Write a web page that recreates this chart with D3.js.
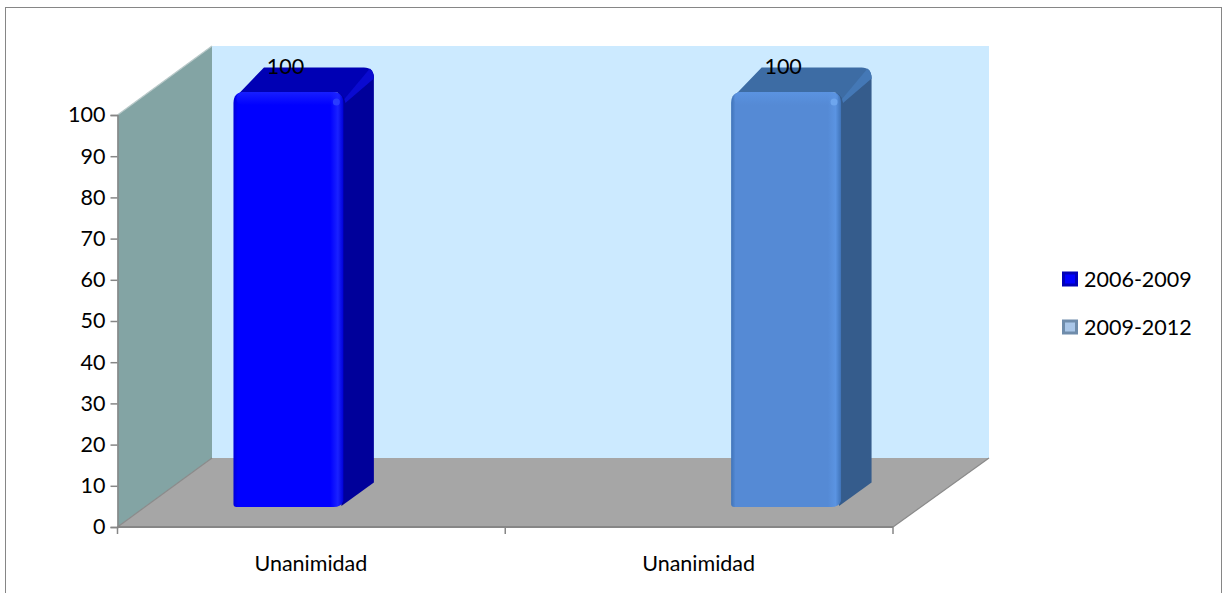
<!DOCTYPE html>
<meta charset="utf-8">
<script src="https://d3js.org/d3.v7.min.js"></script>
<style>
html, body { margin: 0; padding: 0; background: #fff; }
svg { display: block; }
text { font-family: Lato, "Open Sans", sans-serif; fill: #000; }
</style>
<body>
<script>
// Chart values
var categories = ["Unanimidad", "Unanimidad"];
var seriesNames = ["2006-2009", "2009-2012"];
var values2006 = [100, null];
var values2009 = [null, 100];
var yTicks = [0, 10, 20, 30, 40, 50, 60, 70, 80, 90, 100];

var width = 1224, height = 593;

var svg = d3.select("body").append("svg")
    .attr("width", width)
    .attr("height", height);

var defs = svg.append("defs");

// Palette of each series: front, front edge highlight, top, side
var palette = [
    {front: "#0000ff", edge: "#0000d8", light: "#1a22ff", top: "#0000b4", topLight: "#0a0ad0", side: "#00009a"},
    {front: "#558ad5", edge: "#3f73b8", light: "#5b94e2", top: "#3d6ca4", topLight: "#4478b6", side: "#355c8c"}
];

palette.forEach(function(p, i) {
    var g = defs.append("linearGradient").attr("id", "front" + i);
    [[0, p.edge], [0.04, p.front], [0.88, p.front], [0.95, p.light], [1, p.edge]].forEach(function(s) {
        g.append("stop").attr("offset", s[0]).attr("stop-color", s[1]);
    });
    var v = defs.append("linearGradient").attr("id", "frontTop" + i)
        .attr("x1", 0).attr("x2", 0).attr("y1", 0).attr("y2", 1);
    v.append("stop").attr("offset", 0).attr("stop-color", p.light).attr("stop-opacity", 0.9);
    v.append("stop").attr("offset", 1).attr("stop-color", p.light).attr("stop-opacity", 0);
});

// Chart area frame
svg.append("rect")
    .attr("x", 5.5).attr("y", 7.5)
    .attr("width", 1216).attr("height", 600)
    .attr("fill", "#fff")
    .attr("stroke", "#868686");

// Scales
var x0 = d3.scaleBand().domain(d3.range(categories.length)).range([117.5, 893]);
var x1 = d3.scaleBand().domain(d3.range(seriesNames.length))
    .range([0, x0.bandwidth()]).paddingOuter(0.764);
var y = d3.scaleLinear().domain([0, 100]).range([527, 115]);
var barY = d3.scaleLinear().domain([0, 100]).range([507, 92]);

// Depth of the 3D box and position of the bars inside it
var depthX = 94.5, depthY = 69;
var barShiftX = 32, sideX = 30.5, sideY = 24.5;

function pts(a) { return a.map(function(p) { return p.join(","); }).join(" "); }

var x = 117.5, xEnd = 893;

// Back wall
svg.append("polygon")
    .attr("points", pts([[x + depthX, y(100) - depthY], [989, y(100) - depthY], [989, y(0) - depthY], [x + depthX, y(0) - depthY]]))
    .attr("fill", "#cceaff");
// Side wall
svg.append("polygon")
    .attr("points", pts([[x, y(100)], [x + depthX, y(100) - depthY], [x + depthX, y(0) - depthY], [x, y(0)]]))
    .attr("fill", "#83a4a4");
// Floor
svg.append("polygon")
    .attr("points", pts([[x, y(0)], [xEnd, y(0)], [989, y(0) - depthY], [x + depthX, y(0) - depthY]]))
    .attr("fill", "#a6a6a6");

// Floor and wall edges
var edge = svg.append("g").attr("fill", "none").attr("stroke", "#8a8a8a").attr("stroke-width", 1.2);
edge.append("path").attr("d", d3.line()([[x, y(100)], [x + depthX, y(100) - depthY]])).attr("stroke", "#b9c9c9");
edge.append("path").attr("d", d3.line()([[x, y(0)], [x + depthX, y(0) - depthY]]));
edge.append("path").attr("d", d3.line()([[xEnd, y(0)], [989, y(0) - depthY]]));

// Axes
var axisLeft = d3.axisLeft(y).tickValues(yTicks).tickSize(7).tickPadding(5);
var gy = svg.append("g").attr("transform", "translate(" + x + ",0)").call(axisLeft);
gy.select(".domain").attr("stroke", "#868686").attr("stroke-width", 1.5);
gy.selectAll("line").attr("stroke", "#868686").attr("stroke-width", 1.5);
gy.selectAll("text").style("font-size", "21.5px").attr("fill", "#000");

var gx = svg.append("g").attr("transform", "translate(0," + y(0) + ")");
gx.append("line").attr("x1", x).attr("x2", xEnd)
    .attr("stroke", "#868686").attr("stroke-width", 2);
[x, x0(1), xEnd].forEach(function(t) {
    gx.append("line").attr("x1", t).attr("x2", t).attr("y1", 0).attr("y2", 7)
        .attr("stroke", "#868686").attr("stroke-width", 1.5);
});
gx.selectAll(".cat")
    .data(categories)
    .enter().append("text")
    .attr("class", "cat")
    .attr("x", function(d, i) { return x0(i) + x0.bandwidth() / 2 - 0.5; })
    .attr("y", 44)
    .attr("text-anchor", "middle")
    .style("font-size", "21.5px")
    .text(function(d) { return d; });

// Bars
[values2006, values2009].forEach(function(vals, s) {
    var p = palette[s];
    vals.forEach(function(v, c) {
        if (v == null) return;
        var left = x0(c) + x1(s) + barShiftX;
        var w = x1.bandwidth();
        var right = left + w;
        var top = barY(v), bottom = barY(0);
        var g = svg.append("g");
        var r = 11;

        // side face
        g.append("path")
            .attr("d", "M" + (right - 6) + "," + (top + 2) +
                " L" + (right + sideX - 10) + "," + (top - sideY + 1) +
                " Q" + (right + sideX) + "," + (top - sideY) + " " + (right + sideX) + "," + (top - sideY + 12) +
                " L" + (right + sideX) + "," + (bottom - sideY) +
                " L" + (right - 2) + "," + (bottom - 1) + " Z")
            .attr("fill", p.side);

        // top face
        g.append("path")
            .attr("d", "M" + (left + 5) + "," + (top + 2) +
                " L" + (left + sideX) + "," + (top - sideY) +
                " L" + (right + sideX - 10) + "," + (top - sideY) +
                " Q" + (right + sideX) + "," + (top - sideY) + " " + (right + sideX) + "," + (top - sideY + 11) +
                " L" + (right + 2) + "," + (top + 10) +
                " Q" + right + "," + top + " " + (right - 10) + "," + top + " Z")
            .attr("fill", p.top);
        // lighter bevel on the back corner of the top face
        g.append("path")
            .attr("d", "M" + (right + 1) + "," + (top + 7) +
                " L" + (right + sideX - 4) + "," + (top - sideY + 1) +
                " Q" + (right + sideX) + "," + (top - sideY + 4) + " " + (right + sideX) + "," + (top - sideY + 11) +
                " L" + (right + 2) + "," + (top + 11) + " Z")
            .attr("fill", p.topLight);

        // front face
        var frontPath = "M" + left + "," + (top + r) +
            " Q" + left + "," + top + " " + (left + r) + "," + top +
            " L" + (right - r) + "," + top +
            " Q" + right + "," + top + " " + right + "," + (top + r) +
            " L" + right + "," + (bottom - 6) +
            " Q" + (right - 2) + "," + bottom + " " + (right - 10) + "," + bottom +
            " L" + (left + 3) + "," + bottom +
            " Q" + left + "," + bottom + " " + left + "," + (bottom - 3) + " Z";
        g.append("path").attr("d", frontPath).attr("fill", "url(#front" + s + ")");
        g.append("rect")
            .attr("x", left + 3).attr("y", top)
            .attr("width", w - 6).attr("height", 13)
            .attr("rx", 6)
            .attr("fill", "url(#frontTop" + s + ")");
        // small glint on the inner corner
        g.append("circle")
            .attr("cx", right - 7).attr("cy", top + 10).attr("r", 3.5)
            .attr("fill", s == 0 ? "#2a3cff" : "#6ea6ee");

        // data label
        svg.append("text")
            .attr("x", left + 52)
            .attr("y", top - 18)
            .attr("text-anchor", "middle")
            .style("font-size", "21.5px")
            .text(v);
    });
});

// Legend
var legendY = d3.scalePoint().domain(seriesNames).range([279, 327]);
var legend = svg.selectAll(".legend")
    .data(seriesNames)
    .enter().append("g")
    .attr("class", "legend")
    .attr("transform", function(d) { return "translate(1062," + legendY(d) + ")"; });

legend.append("rect")
    .attr("x", 0).attr("y", -7.5).attr("width", 16).attr("height", 15)
    .attr("fill", function(d, i) { return i == 0 ? "#0000b8" : "#6f8cab"; });
legend.append("rect")
    .attr("x", 3).attr("y", -4.5).attr("width", 10).attr("height", 9)
    .attr("fill", function(d, i) { return i == 0 ? "#0000ff" : "#a9c6e8"; });
legend.append("text")
    .attr("x", 22)
    .attr("y", 7.5)
    .style("font-size", "21.5px")
    .text(function(d) { return d; });
</script>
</body>
</html>
